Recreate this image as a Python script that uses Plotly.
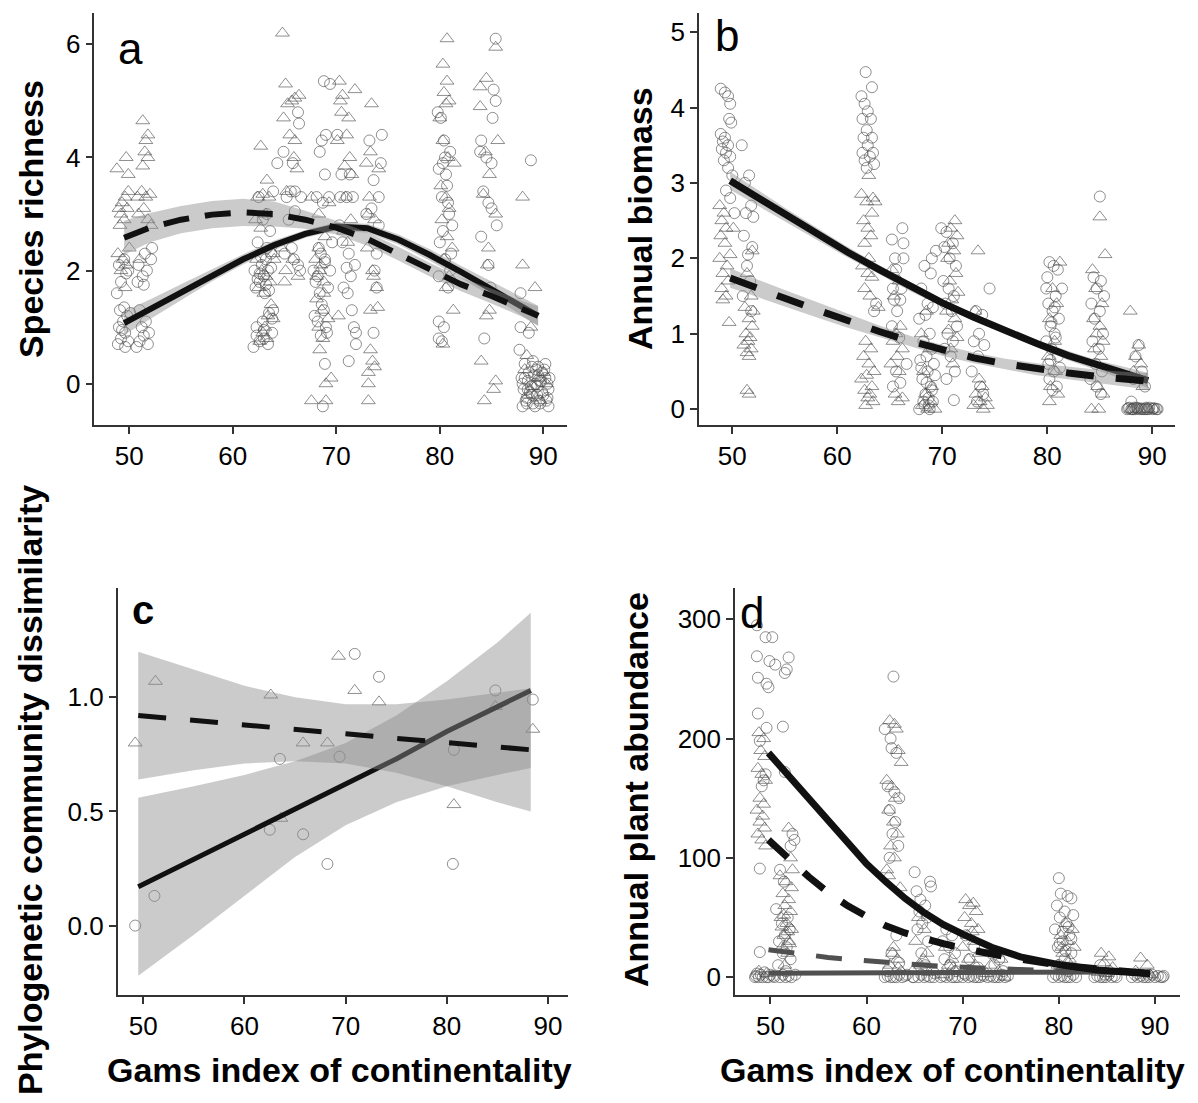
import plotly.graph_objects as go

# ---------------- panel a : species richness ----------------
A_CIRC_X = [48.9, 49.2, 49.6, 49.0, 49.4, 49.8, 49.1, 49.5, 49.9, 49.3, 48.8, 49.2, 49.7, 49.0, 49.5, 49.9, 50.1, 49.6,
            50.7, 51.0, 51.4, 51.8, 51.2, 51.6, 51.0, 51.9, 50.8, 51.3, 51.7, 52.1, 51.5, 52.2, 50.9, 51.4,
            62.0, 62.6, 63.0, 63.4, 63.8, 62.3, 62.9, 63.5, 63.9, 62.2, 62.6, 63.0, 63.4, 62.8, 63.2, 63.7, 62.4, 63.6, 62.9, 63.3, 62.5, 63.9, 64.3, 63.1, 62.1,
            62.4, 63.2, 63.7, 62.7, 63.5, 62.3, 63.0, 63.8, 62.6, 63.3,
            64.9, 65.8, 66.3, 66.4, 65.6, 66.0, 65.2, 66.6, 65.0, 65.9, 66.3, 66.0, 65.4, 66.5, 65.7,
            68.8, 69.4, 69.0, 68.6, 68.4, 68.9, 68.1, 68.7, 69.3, 68.3, 68.9, 69.4, 68.0, 68.6, 68.8, 68.2, 69.1, 68.5, 68.9, 68.7, 67.8, 69.6, 68.4,
            68.2, 68.9, 69.2, 68.5, 67.9, 69.0,
            70.1, 70.5, 71.3, 70.4, 71.0, 71.6, 70.6, 71.2, 71.8, 71.4, 70.7, 71.1, 71.5, 71.7, 71.9, 71.9, 71.2, 70.3, 71.0,
            74.4, 73.2, 73.6, 74.1, 73.4, 74.1, 73.9, 73.7, 73.9, 73.6, 72.9, 74.3,
            79.8, 80.1, 80.4, 81.0, 79.9, 80.6, 80.2, 80.9, 80.3, 81.1, 80.5, 79.9, 80.8, 79.9, 80.4, 79.9, 80.2, 81.2, 80.7,
            80.3, 80.8, 80.0, 81.0, 80.5,
            85.4, 85.2, 85.4, 85.1, 84.0, 83.9, 84.5, 85.0, 84.2, 84.7, 85.0, 85.5, 84.0, 84.7, 84.9, 84.3,
            88.8, 87.8, 87.8, 88.6, 87.7, 88.2, 88.9, 89.5, 90.1, 87.9, 88.5, 89.2, 89.8, 90.4, 88.1, 88.7, 89.4, 90.0, 90.5,
            88.3, 89.0, 89.7, 90.3, 88.6, 89.5, 90.2, 88.0, 89.2, 90.5, 89.0, 88.4, 89.9,
            88.2, 88.8, 89.3, 89.9, 90.4, 88.5, 89.1, 89.6, 90.2, 88.0, 88.9, 89.7, 90.6, 88.4, 89.4]
A_CIRC_Y = [0.7, 0.8, 0.9, 1.0, 1.1, 1.2, 1.3, 1.35, 0.75, 0.95, 1.6, 1.8, 1.95, 2.1, 2.2, 2.0, 1.25, 0.65,
            0.65, 0.75, 0.85, 0.7, 1.0, 1.1, 1.3, 0.9, 1.8, 1.9, 2.0, 2.2, 2.3, 2.4, 2.1, 1.75,
            0.65, 0.75, 0.8, 0.7, 0.9, 1.0, 1.1, 1.25, 1.3, 1.7, 1.8, 1.9, 2.0, 2.1, 2.2, 2.3, 2.5, 2.7, 2.9, 3.0, 3.3, 3.4, 3.9, 1.6, 2.0,
            1.85, 1.75, 2.05, 2.25, 1.65, 0.85, 0.95, 1.15, 1.95, 2.4,
            4.1, 3.9, 4.8, 4.6, 3.4, 3.4, 3.3, 3.3, 2.3, 2.2, 2.1, 3.05, 2.9, 2.0, 2.4,
            5.35, 5.3, 4.4, 4.3, 4.1, 3.7, 3.3, 3.2, 3.3, 2.4, 2.2, 2.0, 1.8, 1.4, 1.3, 1.1, 0.9, 0.85, 0.35, -0.4, 2.0, 2.5, 1.6,
            1.9, 2.15, 1.7, 2.3, 1.2, 1.0,
            4.4, 3.7, 3.7, 3.3, 3.3, 3.3, 2.5, 2.3, 2.1, 1.9, 1.7, 1.6, 1.3, 1.0, 0.9, 0.7, 0.4, 2.8, 2.05,
            4.4, 4.3, 3.6, 3.3, 3.1, 2.8, 2.3, 2.0, 1.7, 0.9, 3.0, 3.9,
            4.8, 4.7, 4.3, 4.1, 3.8, 3.7, 3.3, 3.0, 2.7, 2.3, 2.2, 1.9, 1.7, 1.1, 1.0, 0.8, 0.75, 2.8, 3.5,
            3.9, 3.2, 2.5, 2.0, 4.0,
            6.1, 5.2, 5.0, 4.7, 4.3, 4.1, 4.0, 3.9, 3.4, 3.2, 3.1, 2.8, 2.6, 2.1, 1.7, 0.8,
            3.95, 1.6, 1.0, 0.9, 0.6, 0.35, 0.3, 0.3, 0.25, 0.1, 0.05, 0.0, 0.05, 0.0, -0.1, -0.15, -0.2, -0.2, -0.1,
            -0.3, -0.35, -0.35, -0.3, 0.2, 0.15, 0.1, -0.4, -0.4, -0.4, 0.4, -0.25, -0.15,
            0.1, -0.05, 0.25, 0.2, -0.25, -0.1, 0.15, -0.3, 0.35, 0.0, -0.2, 0.05, 0.1, -0.35, -0.05]
A_TRI_X = [48.8, 49.7, 49.9, 49.0, 49.3, 49.6, 49.9, 49.2, 49.5, 49.1, 49.8, 48.9, 49.4, 49.7, 49.2, 49.6, 50.0,
           51.3, 51.8, 51.6, 51.5, 51.8, 51.3, 50.8, 51.2, 51.6, 52.0, 50.9, 51.4, 51.8, 52.1, 51.0,
           62.7, 63.3, 62.4, 62.9, 63.5, 62.2, 62.7, 63.2, 63.9, 64.0, 62.3, 62.8, 63.2, 63.6, 62.5, 63.0, 63.7, 63.4, 63.1, 62.9, 63.3, 62.6, 63.9,
           64.8, 65.1, 66.4, 65.3, 65.7, 66.0, 64.9, 65.5, 66.0, 65.9, 66.2, 65.2, 64.7, 65.1, 65.0, 66.3, 65.8,
           67.6, 68.3, 68.0, 68.4, 68.8, 68.1, 68.6, 68.3, 68.7, 68.4, 67.6, 69.0, 69.0, 69.5, 69.2, 68.9, 69.3,
           68.5, 68.1, 68.8, 68.3,
           70.3, 71.8, 70.6, 70.4, 70.5, 71.2, 71.0, 70.1, 71.3, 70.8, 71.5, 70.9, 71.4, 70.7, 71.1, 70.2,
           73.4, 73.3, 72.9, 74.1, 73.2, 73.1, 73.7, 73.0, 73.5, 73.6, 73.9, 73.3, 74.0, 73.3, 73.5, 73.7, 73.1, 73.1, 73.1,
           80.7, 80.3, 80.7, 80.4, 80.9, 80.6, 80.0, 80.3, 80.8, 81.4, 80.1, 80.6, 80.9, 80.2, 80.7, 81.2, 80.4, 80.9, 80.6, 81.3, 80.3,
           85.4, 84.5, 83.9, 83.9, 85.6, 84.4, 84.8, 84.2, 85.4, 84.7, 84.6, 85.0, 84.8, 84.5, 84.0, 85.4, 85.2, 84.3,
           88.0, 88.0, 89.2, 88.8, 88.4, 89.5, 88.2, 89.0, 90.0, 88.6, 89.7, 90.3]
A_TRI_Y = [3.8, 4.0, 3.7, 3.1, 3.2, 3.3, 3.4, 3.0, 2.9, 2.8, 3.1, 2.3, 2.2, 2.1, 2.0, 1.7, 2.4,
           4.65, 4.4, 4.3, 4.1, 4.0, 3.85, 3.3, 3.4, 3.3, 3.35, 3.0, 3.1, 2.9, 2.8, 2.2,
           4.2, 3.6, 3.3, 3.35, 3.3, 2.9, 2.75, 3.0, 2.3, 2.2, 2.2, 2.0, 1.9, 1.8, 1.7, 1.6, 1.4, 1.2, 1.0, 0.9, 0.8, 0.75, 1.15,
           6.2, 5.3, 5.1, 4.95, 5.0, 5.05, 4.7, 4.4, 4.3, 4.0, 3.8, 3.4, 2.4, 2.0, 1.8, 1.9, 2.2,
           3.3, 3.0, 2.2, 2.0, 1.8, 1.5, 1.3, 1.0, 0.8, 0.6, -0.3, -0.3, 0.0, 0.1, 1.15, 2.6, 3.2,
           2.1, 1.9, 1.6, 2.4,
           5.35, 5.2, 5.1, 5.0, 4.8, 4.7, 4.4, 4.3, 4.0, 3.85, 3.7, 3.3, 2.9, 2.7, 2.5, 1.2,
           4.95, 4.1, 3.9, 3.8, 3.3, 3.0, 2.9, 2.4, 2.0, 1.9, 1.7, 1.3, 1.35, 0.6, 0.4, 0.3, 0.2, 0.0, -0.3,
           6.1, 5.65, 5.35, 5.15, 5.0, 4.95, 4.7, 4.3, 4.0, 3.9, 3.5, 3.3, 3.1, 2.9, 2.6, 2.4, 2.2, 1.9, 1.7, 1.3, 0.7,
           5.95, 5.4, 5.25, 4.9, 4.3, 4.1, 3.7, 3.35, 3.0, 2.4, 2.1, 1.6, 1.3, 1.2, 0.4, 0.05, -0.1, -0.3,
           3.3, 2.1, 1.7, 1.0, 0.5, 0.1, 0.25, -0.05, 0.2, -0.2, -0.3, 0.0]

A_FIT_X = [49.5, 52, 55, 58, 61, 64, 67, 70, 73, 76, 79, 82, 85, 88, 89.5]
A_SOLID = [1.07, 1.32, 1.62, 1.92, 2.2, 2.45, 2.65, 2.78, 2.75, 2.55, 2.28, 1.98, 1.68, 1.36, 1.2]
A_SOLID_HI = [1.28, 1.49, 1.76, 2.03, 2.29, 2.53, 2.72, 2.85, 2.83, 2.64, 2.38, 2.09, 1.81, 1.52, 1.38]
A_SOLID_LO = [0.86, 1.15, 1.48, 1.81, 2.11, 2.37, 2.58, 2.71, 2.67, 2.46, 2.18, 1.87, 1.55, 1.2, 1.02]
A_DASH = [2.58, 2.76, 2.9, 2.99, 3.03, 3.0, 2.9, 2.76, 2.56, 2.3, 2.02, 1.76, 1.55, 1.32, 1.2]
A_DASH_HI = [2.88, 3.02, 3.14, 3.23, 3.27, 3.22, 3.06, 2.88, 2.68, 2.42, 2.14, 1.88, 1.68, 1.46, 1.37]
A_DASH_LO = [2.28, 2.5, 2.66, 2.75, 2.79, 2.78, 2.74, 2.64, 2.44, 2.18, 1.9, 1.64, 1.42, 1.18, 1.03]

# ---------------- panel b : annual biomass ----------------
B_CIRC_X = [48.9, 49.3, 49.6, 49.8, 49.7, 49.9, 48.9, 49.3, 49.6, 49.0, 49.4, 49.8, 49.2, 49.6, 50.0, 49.4, 49.8, 50.2, 49.1,
            50.9, 51.6, 51.2, 51.8, 51.3, 52.0, 51.1, 51.9, 51.5, 51.4, 51.7, 51.0, 51.8,
            62.7, 63.3, 62.3, 62.6, 62.9, 62.4, 63.2, 62.8, 63.3, 62.5, 62.9, 63.4, 62.6, 63.1, 62.8, 63.5, 62.4, 63.7, 63.5,
            65.2, 66.2, 66.3, 65.5, 66.3, 65.6, 65.3, 66.1, 65.4, 66.0, 65.7, 65.2, 65.9, 65.6, 66.0, 65.3, 66.6,
            68.3, 68.9, 68.0, 68.6, 69.1, 68.4, 67.8, 68.8, 68.2, 69.0, 68.5, 67.9, 69.2, 68.6, 68.1, 68.9, 68.4, 68.7, 69.1, 68.3, 68.8, 69.4, 69.0,
            68.0, 68.5, 69.0, 68.2, 68.7, 69.3, 67.8,
            69.9, 70.4, 71.0, 70.2, 70.7, 71.3, 70.1, 70.6, 71.1, 70.3, 70.9, 71.4, 70.5, 71.0, 70.2, 70.8, 71.2, 70.4, 71.1,
            74.5, 73.2, 73.8, 73.5, 73.0, 74.0, 73.4, 72.8, 73.6, 73.9, 73.3,
            80.2, 80.6, 81.0, 79.9, 80.8, 80.1, 80.5, 81.1, 80.3, 80.7, 79.9, 80.4, 81.0, 80.1, 80.6, 80.2, 80.9, 80.5, 81.4,
            80.0, 80.4, 80.8, 81.2, 80.3, 80.7,
            85.0, 84.4, 85.1, 84.7, 85.4, 84.2, 85.0, 84.5, 85.3, 84.3, 84.9, 84.6, 85.2, 84.1, 84.7, 85.1,
            88.7, 88.4, 89.0, 88.2, 89.3, 88.0, 87.6, 88.0, 88.4, 88.8, 89.2, 89.6, 90.0, 90.4, 87.8, 88.6, 89.4, 90.2, 88.2, 89.0,
            87.7, 88.1, 88.5, 88.9, 89.3, 89.7, 90.1, 90.5, 89.5, 88.3]
B_CIRC_Y = [4.25, 4.2, 4.15, 4.05, 3.85, 3.8, 3.65, 3.6, 3.5, 3.45, 3.4, 3.35, 3.3, 3.2, 3.1, 2.9, 2.8, 2.6, 3.55,
            3.5, 3.1, 3.0, 2.7, 2.6, 2.55, 2.3, 2.15, 2.05, 1.9, 1.7, 1.5, 1.3,
            4.47, 4.27, 4.15, 4.05, 3.95, 3.85, 3.85, 3.7, 3.6, 3.6, 3.5, 3.4, 3.3, 3.35, 3.2, 3.25, 3.4, 1.4, 1.3,
            2.25, 2.4, 2.2, 2.0, 2.0, 1.85, 1.6, 1.6, 1.45, 1.45, 1.3, 1.1, 0.95, 0.5, 0.35, 0.3, 0.6,
            1.9, 1.8, 1.6, 1.4, 1.35, 1.25, 1.2, 1.0, 0.9, 0.8, 0.7, 0.65, 0.6, 0.5, 0.4, 0.3, 0.2, 0.15, 0.1, 0.05, 0.0, 2.1, 2.0,
            0.55, 0.35, 0.25, 0.1, 0.05, 0.45, 0.0,
            2.4, 2.35, 2.2, 2.15, 2.0, 1.9, 1.7, 1.6, 1.5, 1.4, 1.3, 1.1, 1.0, 0.9, 0.8, 0.7, 0.5, 0.4, 0.12,
            1.6, 1.3, 1.25, 1.0, 0.9, 0.85, 0.7, 0.5, 0.3, 0.2, 0.1,
            1.95, 1.9, 1.85, 1.6, 1.5, 1.4, 1.3, 1.2, 1.1, 1.0, 0.9, 0.8, 0.7, 0.6, 0.5, 0.4, 0.3, 0.25, 1.6,
            1.75, 1.15, 0.95, 0.55, 0.65, 1.35,
            2.82, 1.75, 1.7, 1.6, 1.5, 1.4, 1.3, 1.2, 1.0, 0.9, 0.8, 0.6, 0.5, 0.4, 0.3, 0.2,
            0.85, 0.7, 0.5, 0.4, 0.3, 0.1, 0.0, 0.0, 0.0, 0.0, 0.0, 0.0, 0.0, 0.0, 0.02, 0.01, 0.02, 0.01, 0.0, 0.0,
            0.01, 0.0, 0.02, 0.01, 0.0, 0.02, 0.01, 0.0, 0.0, 0.02]
B_TRI_X = [48.8, 49.2, 49.0, 49.4, 48.9, 49.3, 48.8, 49.5, 49.1, 49.6, 49.0, 49.4, 49.1, 49.7, 49.8, 50.1,
           51.9, 51.4, 51.8, 51.2, 51.6, 51.9, 51.3, 51.7, 51.5, 51.1, 51.8, 51.4, 51.6, 51.4, 51.6, 52.0,
           63.0, 62.3, 63.4, 62.8, 63.3, 62.5, 62.9, 63.2, 62.6, 63.0, 62.4, 62.9, 63.3, 62.6, 63.1, 62.7, 63.2, 62.5, 63.0, 63.5,
           62.8, 62.3, 63.3, 62.6, 63.1, 62.9, 63.4, 62.7, 63.6, 63.9,
           65.2, 65.9, 65.4, 66.0, 65.6, 65.3, 66.2, 65.7, 65.1, 65.9, 65.5, 66.2, 65.8,
           68.5, 68.0, 68.8, 68.2, 69.0, 68.4, 68.9, 68.1, 69.3, 68.6,
           71.2, 70.8, 71.4, 70.6, 71.1, 70.5, 71.3, 70.7, 71.5, 70.9, 70.4, 71.2, 70.6, 71.4, 70.8, 71.0,
           73.4, 73.1, 73.5, 73.8, 73.2, 74.1, 73.6, 73.0, 73.9, 74.3,
           81.2, 80.5, 80.9, 80.2, 80.7, 80.1, 80.8, 80.3, 81.0, 80.2,
           85.0, 85.5, 84.3, 84.6, 85.2, 84.4, 85.0, 84.7, 85.3, 84.5, 85.1, 84.8, 85.3, 84.2, 84.9,
           87.9, 88.7, 88.4, 88.9, 88.2, 89.1, 88.0, 88.8, 89.6, 90.2]
B_TRI_Y = [2.7, 2.6, 2.5, 2.4, 2.3, 2.2, 2.0, 1.9, 1.8, 1.7, 1.6, 1.5, 1.45, 1.15, 2.05, 2.4,
           2.1, 1.8, 1.5, 1.35, 1.2, 1.1, 1.0, 0.95, 0.9, 0.85, 0.8, 0.75, 0.7, 0.25, 0.2, 1.3,
           3.1, 2.85, 2.8, 2.75, 2.6, 2.5, 2.4, 2.3, 2.2, 2.0, 1.9, 1.8, 1.75, 1.6, 1.5, 0.9, 0.8, 0.7, 0.6, 0.5,
           0.45, 0.4, 0.3, 0.25, 0.2, 0.15, 0.1, 0.05, 2.75, 1.35,
           1.85, 1.7, 1.5, 1.1, 1.0, 0.9, 0.8, 0.7, 0.6, 0.5, 0.2, 0.15, 0.1,
           1.3, 1.0, 0.8, 0.5, 0.3, 0.2, 0.1, 0.05, 0.0, 0.0,
           2.5, 2.4, 2.3, 2.2, 2.1, 2.0, 1.8, 1.7, 1.55, 1.45, 1.3, 1.2, 1.05, 0.95, 0.8, 0.6,
           2.1, 1.3, 0.4, 0.3, 0.2, 0.15, 0.1, 0.05, 0.0, 0.05,
           1.95, 1.6, 1.4, 1.2, 0.9, 0.7, 0.5, 0.3, 0.2, 0.1,
           2.55, 2.05, 1.85, 1.6, 1.4, 1.2, 1.1, 1.0, 0.9, 0.8, 0.7, 0.3, 0.2, 0.0, 0.0,
           1.3, 0.85, 0.7, 0.6, 0.5, 0.3, 0.0, 0.0, 0.0, 0.0]

B_FIT_X = [49.8, 52, 55, 58, 61, 64, 67, 70, 73, 76, 79, 82, 85, 88, 89.6]
B_SOLID = [3.03, 2.84, 2.58, 2.33, 2.08, 1.85, 1.62, 1.41, 1.22, 1.04, 0.87, 0.71, 0.57, 0.45, 0.38]
B_SOLID_HI = [3.15, 2.95, 2.67, 2.41, 2.15, 1.91, 1.68, 1.46, 1.27, 1.09, 0.92, 0.77, 0.64, 0.54, 0.48]
B_SOLID_LO = [2.91, 2.73, 2.49, 2.25, 2.01, 1.79, 1.56, 1.36, 1.17, 0.99, 0.82, 0.65, 0.5, 0.36, 0.28]
B_DASH = [1.74, 1.62, 1.47, 1.32, 1.17, 1.03, 0.9, 0.78, 0.68, 0.6, 0.53, 0.48, 0.43, 0.39, 0.37]
B_DASH_HI = [1.87, 1.74, 1.58, 1.42, 1.26, 1.11, 0.97, 0.85, 0.75, 0.67, 0.61, 0.56, 0.52, 0.49, 0.48]
B_DASH_LO = [1.61, 1.5, 1.36, 1.22, 1.08, 0.95, 0.83, 0.71, 0.61, 0.53, 0.45, 0.4, 0.34, 0.29, 0.26]

# ---------------- panel c : phylogenetic community dissimilarity ----------------
C_CIRC_X = [49.2, 51.1, 62.5, 63.5, 65.8, 68.2, 69.4, 70.9, 73.3, 80.7, 80.6, 84.8, 88.5]
C_CIRC_Y = [0.0, 0.13, 0.42, 0.73, 0.4, 0.27, 0.74, 1.19, 1.09, 0.77, 0.27, 1.03, 0.99]
C_TRI_X = [49.2, 51.2, 62.6, 63.6, 65.8, 68.2, 69.3, 70.9, 73.3, 80.7, 84.8, 88.5]
C_TRI_Y = [0.8, 1.07, 1.01, 0.47, 0.8, 0.8, 1.18, 1.03, 0.98, 0.53, 0.96, 0.86]

C_FIT_X = [49.5, 55, 60, 65, 70, 75, 80, 85, 88.3]
C_SOLID = [0.17, 0.29, 0.4, 0.51, 0.62, 0.73, 0.85, 0.96, 1.03]
C_SOLID_HI = [0.56, 0.61, 0.66, 0.72, 0.8, 0.92, 1.07, 1.24, 1.37]
C_SOLID_LO = [-0.22, -0.04, 0.13, 0.3, 0.44, 0.54, 0.61, 0.66, 0.69]
C_DASH = [0.92, 0.9, 0.88, 0.86, 0.84, 0.82, 0.8, 0.78, 0.77]
C_DASH_HI = [1.2, 1.12, 1.05, 1.0, 0.97, 0.97, 0.99, 1.02, 1.04]
C_DASH_LO = [0.64, 0.68, 0.71, 0.72, 0.71, 0.67, 0.61, 0.54, 0.5]

# ---------------- panel d : annual plant abundance ----------------
D_CIRC_X = [48.6, 49.5, 50.2, 48.6, 49.9, 48.7, 49.6, 49.8, 48.7, 49.6, 48.9, 49.5, 49.3, 49.1, 48.9, 48.9, 48.4, 48.8, 49.2, 49.6, 50.0, 48.6, 49.4,
            51.9, 50.5, 51.7, 51.5, 51.3, 51.5, 52.3, 52.5, 52.1, 51.0, 51.4, 50.6, 51.8, 51.2, 52.0, 51.5, 50.9, 51.7, 51.3, 52.1, 50.8, 51.6,
            50.4, 51.0, 51.6, 52.2, 52.6,
            62.8, 61.9, 62.5, 62.6, 63.1, 62.2, 62.9, 63.4, 62.4, 63.0, 62.7, 63.3, 62.4, 63.1, 62.6, 63.4, 62.2, 61.9, 62.5, 63.1, 63.7, 64.2,
            65.0, 66.6, 66.7, 65.2, 65.6, 66.1, 65.5, 66.3, 65.8, 65.3, 66.4, 65.7, 66.1, 64.8, 65.4, 66.0, 66.6, 67.1,
            68.3, 68.9, 67.9, 68.6, 69.2, 68.1, 68.7, 69.3, 67.7, 68.3, 68.9, 69.5,
            70.3, 71.2, 70.7, 71.6, 70.1, 70.0, 70.6, 71.2, 71.8, 72.2,
            73.0, 73.8, 73.3, 74.2, 72.6, 73.2, 73.8, 74.4,
            80.0, 80.2, 80.9, 81.3, 79.8, 80.6, 81.5, 80.1, 80.8, 79.6, 81.1, 80.4, 79.9, 81.3, 80.6, 80.0, 81.0, 79.4, 80.0, 80.6, 81.2, 81.8,
            84.3, 85.2, 84.8, 83.7, 84.3, 84.9, 85.5, 86.0,
            88.2, 89.3, 87.6, 88.2, 88.8, 89.4, 90.0, 90.6, 90.9,
            48.5, 49.0, 49.8, 50.3, 51.3, 51.9, 62.2, 62.8, 63.4, 64.0, 64.9, 65.7, 66.3, 67.0, 68.0, 68.6,
            69.2, 70.3, 70.9, 71.5, 72.0, 72.9, 73.5, 74.1, 74.7, 79.7, 80.3, 80.9, 81.5, 84.0, 84.6, 85.2,
            85.8, 87.9, 88.5, 89.1, 89.7, 90.3, 90.8, 80.4, 81.0, 80.1, 80.7, 81.3]
D_CIRC_Y = [295, 285, 285, 269, 265, 251, 246, 243, 221, 209, 198, 170, 165, 160, 91, 21, 0, 0, 0, 0, 2, 3, 4,
            268, 262, 258, 255, 210, 172, 120, 115, 110, 90, 80, 57, 50, 45, 40, 35, 30, 25, 20, 15, 10, 5,
            0, 0, 0, 0, 2,
            252, 208, 200, 192, 188, 160, 155, 150, 140, 130, 120, 110, 100, 35, 20, 12, 5, 0, 0, 0, 0, 2,
            88, 80, 76, 72, 65, 60, 55, 50, 45, 40, 30, 20, 10, 0, 0, 0, 0, 3,
            40, 35, 30, 25, 20, 15, 10, 5, 0, 0, 0, 0,
            35, 25, 15, 8, 3, 0, 0, 0, 0, 1,
            20, 15, 10, 5, 0, 0, 0, 0,
            83, 70, 68, 66, 60, 55, 52, 50, 45, 40, 35, 30, 25, 20, 15, 10, 5, 0, 0, 0, 0, 0,
            10, 5, 2, 0, 0, 0, 0, 0,
            3, 2, 0, 0, 0, 0, 0, 0, 1,
            1, 2, 0, 1, 2, 1, 1, 0, 2, 1, 0, 2, 1, 0, 1, 2,
            0, 2, 1, 0, 2, 1, 0, 2, 1, 2, 1, 0, 2, 1, 0, 2,
            1, 2, 1, 0, 2, 1, 0, 38, 42, 28, 22, 32]
D_TRI_X = [48.8, 49.3, 49.0, 49.4, 48.7, 49.1, 49.5, 48.9, 49.3, 48.6, 49.2, 48.9, 49.4, 48.7, 49.1, 49.5, 48.8, 49.6,
           51.9, 52.1, 52.3, 51.0, 51.6, 52.2, 51.3, 51.9, 51.5, 52.1, 51.1, 51.7, 52.2, 51.4, 51.9, 51.2, 51.8, 51.5,
           62.4, 62.9, 63.1, 63.3, 63.6, 62.1, 62.6, 63.0, 62.3, 62.8, 63.2, 62.5, 62.9, 62.1, 62.3, 63.5, 62.7, 63.2, 62.4, 63.6,
           65.4, 66.0, 65.1, 66.3, 65.6, 64.8,
           68.2, 68.9, 68.5, 69.2, 67.9,
           70.3, 71.1, 70.7, 71.4, 70.2, 70.9, 71.6, 70.5, 71.2, 70.0, 71.7, 70.6, 71.3, 70.8,
           73.4, 74.0, 72.9, 73.7, 74.3,
           80.7, 81.4, 80.2, 80.9, 81.6, 80.4, 81.1, 79.9, 80.6,
           84.4, 85.2, 84.7, 85.6, 84.1,
           88.5, 89.2, 88.0,
           51.4, 51.8, 51.2, 52.0, 62.8, 63.3, 65.9, 66.5, 69.0, 71.0, 72.5, 80.3, 81.0, 85.0, 89.5]
D_TRI_Y = [205, 200, 190, 185, 175, 170, 165, 150, 145, 140, 135, 130, 125, 120, 115, 110, 5, 3,
           125, 100, 90, 85, 80, 75, 70, 65, 60, 55, 50, 45, 40, 35, 30, 25, 20, 10,
           215, 212, 208, 190, 180, 165, 160, 150, 140, 130, 120, 110, 100, 90, 85, 75, 20, 15, 10, 5,
           50, 40, 30, 20, 10, 5,
           25, 15, 10, 5, 2,
           65, 62, 60, 55, 50, 45, 40, 35, 30, 25, 20, 15, 10, 5,
           20, 15, 10, 5, 0,
           45, 40, 35, 30, 25, 20, 15, 10, 5,
           20, 17, 12, 8, 4,
           16, 10, 5,
           52, 38, 42, 28, 25, 8, 15, 4, 8, 38, 3, 25, 12, 3, 2]

D_FIT_X = [49.8, 52, 54, 56, 58, 60, 62, 64, 66, 68, 70, 73, 76, 80, 84, 88, 89.5]
D_SOLID = [188, 168, 150, 131, 112, 95, 80, 66, 54, 44, 36, 25, 17, 10.5, 6, 3.5, 2.8]
D_DASH = [115, 98, 84, 71, 60, 51, 43, 37, 32, 28, 24, 19, 15, 10, 6.5, 4, 3.2]
D_GREY_DASH = [23, 20.5, 18.5, 16.5, 15, 13.5, 12, 11, 10, 9, 8.2, 7.2, 6.3, 5.3, 4.6, 4, 3.8]
D_GREY_SOLID = [3.3, 3.3, 3.4, 3.4, 3.5, 3.5, 3.6, 3.6, 3.7, 3.7, 3.8, 3.9, 4.0, 4.1, 4.2, 4.3, 4.4]

TICKS_X = [50, 60, 70, 80, 90]

W, H = 1198, 1103
FONT = "Liberation Sans, Arial, sans-serif"
PT_COLOR = "rgba(75,75,75,0.62)"
BAND = "rgba(140,140,140,0.45)"
INK = "#111111"
GREY_LINE = "#505050"

fig = go.Figure()


def add_points(xs, ys, symbol, size, ax):
    fig.add_trace(go.Scatter(
        x=xs, y=ys, mode="markers", xaxis=ax[0], yaxis=ax[1], showlegend=False,
        marker=dict(symbol=symbol, size=size, color=PT_COLOR, line=dict(width=1, color=PT_COLOR)),
        hoverinfo="skip"))


def add_band(xs, lo, hi, ax):
    fig.add_trace(go.Scatter(
        x=list(xs) + list(xs)[::-1], y=list(hi) + list(lo)[::-1],
        mode="lines", fill="toself", fillcolor=BAND, line=dict(width=0),
        xaxis=ax[0], yaxis=ax[1], showlegend=False, hoverinfo="skip"))


def add_line(xs, ys, ax, dash="solid", width=6, color=INK):
    fig.add_trace(go.Scatter(
        x=xs, y=ys, mode="lines", xaxis=ax[0], yaxis=ax[1], showlegend=False,
        line=dict(color=color, width=width, dash=dash), hoverinfo="skip"))


AX_A = ("x", "y")
AX_B = ("x2", "y2")
AX_C = ("x3", "y3")
AX_D = ("x4", "y4")

# panel a
add_points(A_CIRC_X, A_CIRC_Y, "circle-open", 11, AX_A)
add_points(A_TRI_X, A_TRI_Y, "triangle-up-open", 12, AX_A)
add_band(A_FIT_X, A_SOLID_LO, A_SOLID_HI, AX_A)
add_line(A_FIT_X, A_SOLID, AX_A)
add_band(A_FIT_X, A_DASH_LO, A_DASH_HI, AX_A)
add_line(A_FIT_X, A_DASH, AX_A, dash="26px,16px")

# panel b
add_points(B_CIRC_X, B_CIRC_Y, "circle-open", 11, AX_B)
add_points(B_TRI_X, B_TRI_Y, "triangle-up-open", 12, AX_B)
add_band(B_FIT_X, B_SOLID_LO, B_SOLID_HI, AX_B)
add_line(B_FIT_X, B_SOLID, AX_B, width=7)
add_band(B_FIT_X, B_DASH_LO, B_DASH_HI, AX_B)
add_line(B_FIT_X, B_DASH, AX_B, dash="28px,22px", width=7)

# panel c
add_points(C_CIRC_X, C_CIRC_Y, "circle-open", 11, AX_C)
add_points(C_TRI_X, C_TRI_Y, "triangle-up-open", 12, AX_C)
add_band(C_FIT_X, C_SOLID_LO, C_SOLID_HI, AX_C)
add_line(C_FIT_X, C_SOLID, AX_C, width=5)
add_band(C_FIT_X, C_DASH_LO, C_DASH_HI, AX_C)
add_line(C_FIT_X, C_DASH, AX_C, dash="28px,24px", width=5)

# panel d
add_points(D_CIRC_X, D_CIRC_Y, "circle-open", 11, AX_D)
add_points(D_TRI_X, D_TRI_Y, "triangle-up-open", 12, AX_D)
add_line(D_FIT_X, D_GREY_SOLID, AX_D, width=5, color=GREY_LINE)
add_line(D_FIT_X, D_GREY_DASH, AX_D, dash="26px,22px", width=5, color=GREY_LINE)
add_line(D_FIT_X, D_SOLID, AX_D, width=7)
add_line(D_FIT_X, D_DASH, AX_D, dash="26px,22px", width=7)


def px_x(p):
    return p / W


def px_y(p):
    return 1 - p / H


def axis_style(domain, rng, ticks, anchor, fmt=None):
    d = dict(domain=domain, range=rng, tickvals=ticks, anchor=anchor,
             showline=True, linecolor="#333333", linewidth=1.5, mirror=False,
             ticks="outside", ticklen=7, tickwidth=1.5, tickcolor="#333333",
             showgrid=False, zeroline=False, fixedrange=True,
             tickfont=dict(family=FONT, size=26, color="black"))
    if fmt:
        d["tickformat"] = fmt
    return d


layout = dict(
    width=W, height=H, margin=dict(l=0, r=0, t=0, b=0),
    paper_bgcolor="white", plot_bgcolor="white", showlegend=False,
    xaxis=axis_style([px_x(94.3), px_x(567)], [46.62, 92.29], TICKS_X, "y"),
    yaxis=axis_style([px_y(425), px_y(12.7)], [-0.73, 6.56], [0, 2, 4, 6], "x"),
    xaxis2=axis_style([px_x(699), px_x(1175)], [46.83, 92.16], TICKS_X, "y2"),
    yaxis2=axis_style([px_y(425), px_y(13.3)], [-0.21, 5.25], [0, 1, 2, 3, 4, 5], "x2"),
    xaxis3=axis_style([px_x(117.7), px_x(568)], [47.47, 91.98], TICKS_X, "y3"),
    yaxis3=axis_style([px_y(995), px_y(587.7)], [-0.304, 1.48], [0.0, 0.5, 1.0], "x3", fmt=".1f"),
    xaxis4=axis_style([px_x(735), px_x(1180)], [46.32, 92.6], TICKS_X, "y4"),
    yaxis4=axis_style([px_y(995), px_y(587.7)], [-15, 326.5], [0, 100, 200, 300], "x4"),
)
fig.update_layout(**layout)

TITLE_FONT = dict(family=FONT, size=34, color="black")
LETTER_FONT = dict(family=FONT, size=44, color="black")


def note(text, xp, yp, font, angle=0):
    fig.add_annotation(text=text, x=px_x(xp), y=px_y(yp), xref="paper", yref="paper",
                       showarrow=False, textangle=angle, font=font,
                       xanchor="center", yanchor="middle")


note("<b>Species richness</b>", 31, 219, TITLE_FONT, -90)
note("<b>Annual biomass</b>", 640, 219, TITLE_FONT, -90)
note("<b>Phylogenetic community dissimilarity</b>", 30, 790, TITLE_FONT, -90)
note("<b>Annual plant abundance</b>", 636, 790, TITLE_FONT, -90)
note("<b>Gams index of continentality</b>", 340, 1070, TITLE_FONT)
note("<b>Gams index of continentality</b>", 952, 1070, TITLE_FONT)

note("a", 130, 48, LETTER_FONT)
note("b", 727, 36, LETTER_FONT)
note("<b>c</b>", 143, 610, dict(family=FONT, size=40, color="black"))
note("d", 752, 612, LETTER_FONT)

fig.write_html("out.html")
